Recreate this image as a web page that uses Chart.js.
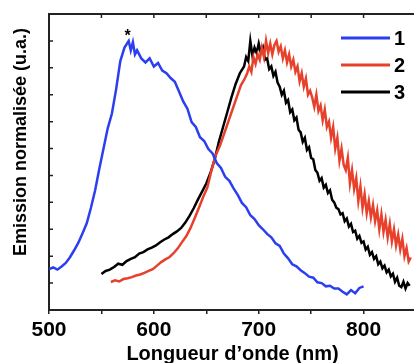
<!DOCTYPE html>
<html><head><meta charset="utf-8">
<script src="https://cdn.jsdelivr.net/npm/chart.js@4/dist/chart.umd.min.js"></script>
<style>html,body{margin:0;padding:0;overflow:hidden;background:#fff}canvas{display:block}</style>
</head><body>
<canvas id="c" width="420" height="363"></canvas>
<script>
// Series 1 (blue)
const wl1 = [500,504,508,512,516,520,524,528,532,536,540,544,548,552,556,560,564,568,572,576,578,580,582,584,588,592,596,600,604,608,612,616,620,624,628,632,636,640,644,648,652,656,660,664,668,672,676,680,684,688,692,696,700,704,708,712,716,720,724,728,732,736,740,744,748,752,756,760,764,768,772,776,780,784,788,792,796,800];
const em1 = [.152,.158,.150,.162,.175,.196,.222,.250,.285,.322,.380,.445,.525,.600,.675,.730,.820,.925,.975,1.000,.965,.995,.950,.965,.935,.920,.935,.905,.918,.890,.880,.862,.848,.812,.775,.748,.698,.680,.642,.628,.598,.582,.546,.528,.495,.480,.452,.428,.398,.382,.352,.338,.315,.300,.283,.270,.248,.238,.210,.192,.170,.162,.148,.137,.124,.120,.103,.100,.088,.090,.080,.080,.068,.058,.074,.062,.082,.088];
// Series 2 (red)
const wl2 = [559,563,567,571,575,579,583,587,591,595,599,603,607,611,615,619,623,627,631,635,639,643,647,651,655,659,663,667,671,675,679,683,687,689,691,693,695,697,699,701,703,705,707,709,711,713,715,717,719,721,723,725,727,729,731,733,735,737,739,741,743,745,747,749,751,753,755,757,759,761,763,765,767,769,771,773,775,777,779,781,783,785,787,789,791,793,795,797,799,801,803,805,807,809,811,813,815,817,819,821,823,825,827,829,831,833,835,837,839,841,843,845];
const em2 = [.104,.110,.106,.115,.118,.122,.128,.132,.138,.145,.152,.165,.178,.188,.197,.212,.230,.253,.275,.305,.342,.380,.420,.455,.520,.575,.610,.655,.700,.745,.790,.835,.862,.880,.905,.885,.940,.915,.950,.930,.975,.940,1.000,.955,.990,.950,.985,1.000,.960,.980,.935,.965,.920,.950,.905,.930,.885,.905,.850,.880,.830,.860,.800,.815,.790,.755,.800,.740,.760,.705,.745,.680,.700,.640,.680,.600,.640,.555,.600,.540,.520,.565,.470,.520,.450,.490,.405,.460,.380,.430,.360,.405,.345,.390,.330,.370,.300,.355,.290,.335,.270,.320,.255,.300,.240,.280,.225,.265,.200,.230,.180,.195];
// Series 3 (black)
const wl3 = [550,554,558,562,566,570,574,578,582,586,590,594,598,602,606,610,614,618,622,626,630,634,638,642,646,650,654,658,662,666,670,674,678,682,686,688,690,692,694,696,698,700,702,704,706,708,710,712,714,716,718,720,722,724,726,728,730,732,734,736,738,740,742,744,746,748,750,752,754,756,758,760,762,764,766,768,770,772,774,776,778,780,782,784,786,788,790,792,794,796,798,800,802,804,806,808,810,812,814,816,818,820,822,824,826,828,830,832,834,836,838,840,842,844];
const em3 = [.134,.145,.150,.160,.172,.168,.182,.190,.196,.210,.215,.225,.232,.240,.252,.262,.270,.282,.292,.305,.325,.350,.378,.410,.440,.470,.510,.560,.625,.680,.735,.790,.840,.880,.905,.940,.925,1.000,.945,.975,.955,.990,.955,.975,.930,.935,.895,.905,.870,.885,.845,.830,.800,.815,.770,.780,.735,.745,.705,.715,.670,.660,.625,.640,.595,.605,.565,.560,.520,.510,.480,.490,.455,.465,.435,.445,.410,.400,.380,.375,.355,.360,.330,.340,.310,.320,.290,.295,.265,.275,.250,.255,.225,.235,.205,.215,.190,.200,.170,.180,.155,.165,.140,.150,.125,.135,.105,.120,.090,.085,.105,.080,.100,.090];

const seriesLabels = ['1','2','3'];
const seriesColors = ['#2b3ff0','#e8412b','#000000'];
const xTickLabels = [500,600,700,800];
const peakMark = {x:575, y:1.0, text:'*'};

const toPts = (xs, ys) => xs.map((x,i)=>({x, y: ys[i]}));
const allWl = [wl1, wl2, wl3], allEm = [em1, em2, em3];

const FONT = 'Liberation Sans, Arial, sans-serif';

const decor = {
  id:'decor',
  afterDraw(chart){
    const {ctx, chartArea:a, scales:{x,y}} = chart;
    ctx.save();
    ctx.strokeStyle = '#222';
    ctx.lineWidth = 2;
    ctx.beginPath();
    ctx.moveTo(a.left-1, a.top); ctx.lineTo(a.right+2, a.top);
    ctx.stroke();
    ctx.lineWidth = 1.5;
    ctx.beginPath();
    for (let v=500; v<=850; v+=50){ const px=x.getPixelForValue(v); ctx.moveTo(px,a.top); ctx.lineTo(px,a.top+4); }
    for (const t of y.ticks){ const py=y.getPixelForValue(t.value); if (py < a.top+2 || py > a.bottom-2) continue; ctx.moveTo(a.left,py); ctx.lineTo(a.left+4,py); }
    ctx.stroke();
    // legend
    const ly = [38,65,92];
    chart.data.datasets.forEach((ds,i)=>{
      ctx.strokeStyle = ds.borderColor; ctx.lineWidth = 3;
      ctx.beginPath(); ctx.moveTo(341, ly[i]); ctx.lineTo(390, ly[i]); ctx.stroke();
      ctx.fillStyle = '#000'; ctx.font = 'bold 20px '+FONT;
      ctx.textAlign='left'; ctx.textBaseline='middle';
      ctx.fillText(ds.label, 394, ly[i]+1);
    });
    // asterisk
    ctx.fillStyle='#000'; ctx.font='bold 16px '+FONT; ctx.textAlign='center'; ctx.textBaseline='middle';
    ctx.fillText(peakMark.text, x.getPixelForValue(peakMark.x), y.getPixelForValue(peakMark.y)-4);
    // y title
    ctx.save();
    ctx.translate(21, 142); ctx.rotate(-Math.PI/2);
    ctx.font='bold 18px '+FONT; ctx.textAlign='center'; ctx.textBaseline='middle';
    ctx.fillText('Emission normalisée (u.a.)', 0, 0);
    ctx.restore();
    ctx.restore();
  }
};

new Chart(document.getElementById('c'), {
  type:'line',
  data:{ datasets: seriesLabels.map((lab,i)=>({
    label: lab, data: toPts(allWl[i], allEm[i]), borderColor: seriesColors[i], backgroundColor: seriesColors[i],
    borderWidth: 2.5, pointRadius: 0, tension: 0, fill:false
  }))},
  options:{
    responsive:false, animation:false, devicePixelRatio:1,
    layout:{padding:{top:14,right:0,bottom:0,left:0}},
    plugins:{legend:{display:false}, tooltip:{enabled:false}},
    scales:{
      x:{type:'linear', min:500, max:850,
        ticks:{stepSize:50, autoSkip:false, maxRotation:0, padding:4, color:'#000',
          font:{family:FONT, size:21, weight:'bold'},
          callback:(v)=> xTickLabels.includes(v) ? String(v) : ''},
        grid:{drawOnChartArea:false, drawTicks:true, tickLength:4, color:'#222', lineWidth:1.5},
        border:{display:true, color:'#222', width:2},
        title:{display:true, text:'Longueur d’onde (nm)', color:'#000', font:{family:FONT, size:20, weight:'bold'}, padding:{top:0, bottom:-3}},
        afterFit(s){ s.height = 53; }
      },
      y:{min:0, max:1.1,
        ticks:{display:false, stepSize:0.1},
        grid:{display:false},
        border:{display:true, color:'#222', width:2},
        afterFit(s){ s.width = 49; }
      }
    }
  },
  plugins:[decor]
});
</script>
</body></html>
